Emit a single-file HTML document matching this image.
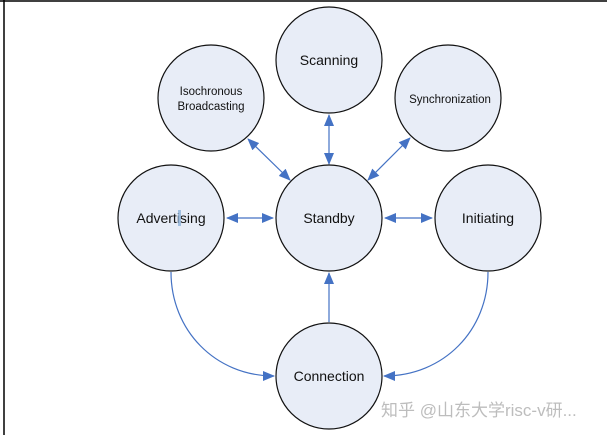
<!DOCTYPE html>
<html><head><style>
html,body{margin:0;padding:0;background:#fff;}
svg{display:block;}
text{font-family:"Liberation Sans","Noto Sans CJK SC",sans-serif;fill:#111;}
</style></head><body>
<svg width="607" height="435" viewBox="0 0 607 435" xmlns="http://www.w3.org/2000/svg">
<defs>
<marker id="a" markerWidth="12" markerHeight="10" refX="11" refY="5" orient="auto-start-reverse" markerUnits="userSpaceOnUse">
<path d="M0,0 L12,5 L0,10 Z" fill="#4472C4"/>
</marker>
</defs>
<line x1="4" y1="0" x2="4" y2="435" stroke="#000" stroke-width="1.5"/>
<line x1="0" y1="1" x2="607" y2="1" stroke="#000" stroke-width="1.5"/>
<g stroke="#4472C4" stroke-width="1.2" fill="none">
<line x1="227" y1="218" x2="273" y2="218" marker-start="url(#a)" marker-end="url(#a)"/>
<line x1="385" y1="218" x2="432" y2="218" marker-start="url(#a)" marker-end="url(#a)"/>
<line x1="329" y1="115" x2="329" y2="164" marker-start="url(#a)" marker-end="url(#a)"/>
<line x1="248" y1="139" x2="290" y2="180" marker-start="url(#a)" marker-end="url(#a)"/>
<line x1="410" y1="138" x2="368" y2="180" marker-start="url(#a)" marker-end="url(#a)"/>
<line x1="329" y1="322" x2="329" y2="273" marker-end="url(#a)"/>
<path d="M171,272 C171,330 215,376 274,376" marker-end="url(#a)"/>
<path d="M488,272 C488,330 444,376 384,376" marker-end="url(#a)"/>
</g>
<g fill="#E8EDF7" stroke="#111" stroke-width="1.2">
<ellipse cx="329" cy="60" rx="53" ry="53"/>
<ellipse cx="211" cy="98" rx="53" ry="53"/>
<ellipse cx="448" cy="98" rx="53" ry="53"/>
<ellipse cx="171" cy="218" rx="53" ry="53"/>
<ellipse cx="329" cy="218" rx="53" ry="53"/>
<ellipse cx="488" cy="218" rx="53" ry="53"/>
<ellipse cx="329" cy="376" rx="53" ry="53"/>
</g>
<g font-size="14" text-anchor="middle">
<text x="329" y="65">Scanning</text>
<text x="171" y="223">Advertising</text>
<text x="329" y="223">Standby</text>
<text x="488" y="223">Initiating</text>
<text x="329" y="381">Connection</text>
</g>
<g font-size="11.5" text-anchor="middle">
<text x="211" y="95">Isochronous</text>
<text x="211" y="110">Broadcasting</text>
<text x="450" y="103">Synchronization</text>
</g>
<rect x="178" y="210" width="3" height="16" fill="#8fb3d9" opacity="0.8"/>
<text x="381" y="416" font-size="17" style="fill:#bdbdbd">知乎 @山东大学risc-v研...</text>
</svg>
</body></html>
